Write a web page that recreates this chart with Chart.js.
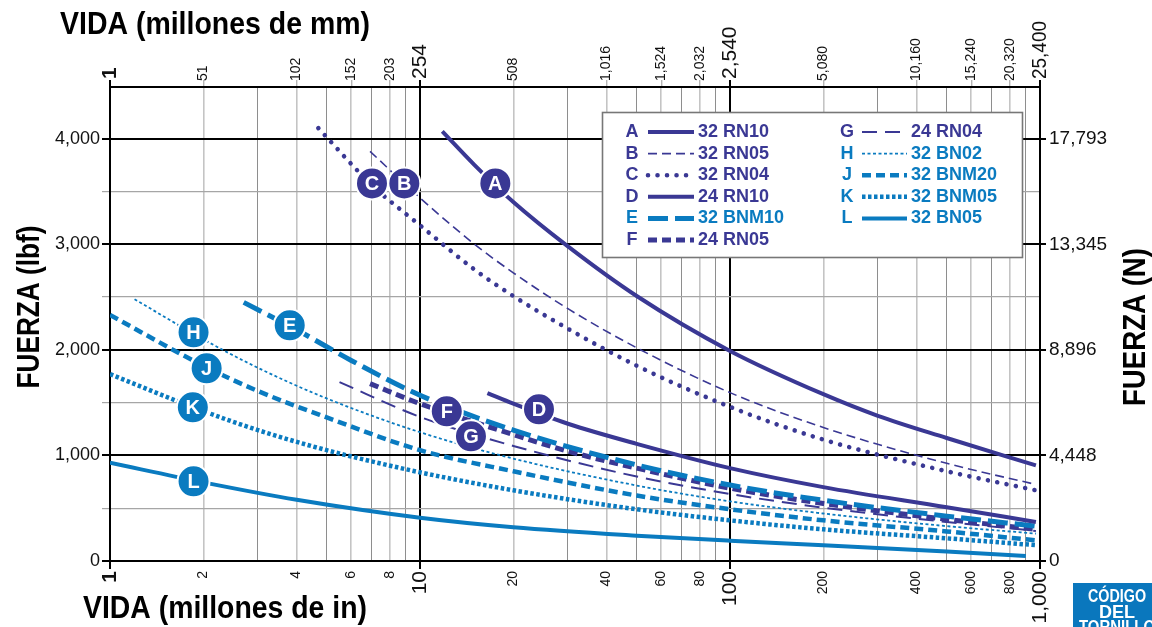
<!DOCTYPE html>
<html>
<head>
<meta charset="utf-8">
<script src="https://cdn.jsdelivr.net/npm/chart.js@4.4.1/dist/chart.umd.min.js"></script>
<style>
  html, body { margin: 0; padding: 0; background: #fff; overflow: hidden; }
  canvas { display: block; }
</style>
</head>
<body>
<canvas id="myChart" width="1152" height="627"></canvas>
<script>
const FONT = "'Liberation Sans', Arial, Helvetica, sans-serif";
const PURPLE = '#3a3894';
const BLUE = '#0a7bc0';

// series: life in millions of inches (x) and force in lbf (y)
const lifeA = [11.8, 15, 20, 30, 50, 100, 200, 300, 500, 970];
const forceA = [4070, 3750, 3400, 2980, 2510, 1990, 1580, 1375, 1165, 905];
const lifeB = [6.9, 10, 15, 20, 30, 50, 100, 200, 500, 970];
const forceB = [3880, 3440, 3000, 2730, 2390, 2020, 1595, 1265, 925, 725];
const lifeC = [4.7, 7, 10, 15, 20, 30, 50, 100, 200, 500, 970];
const forceC = [4100, 3560, 3180, 2760, 2510, 2200, 1850, 1460, 1150, 850, 670];
const lifeD = [16.5, 20, 30, 50, 100, 200, 500, 970];
const forceD = [1590, 1490, 1300, 1110, 880, 700, 510, 370];
const lifeE = [2.7, 4, 6, 10, 20, 50, 100, 200, 500, 970];
const forceE = [2450, 2190, 1900, 1570, 1240, 910, 720, 575, 425, 330];
const lifeF = [6.9, 10, 18, 30, 50, 100, 200, 500, 970];
const forceF = [1680, 1490, 1240, 1040, 880, 690, 545, 395, 300];
const lifeG = [5.5, 10, 20, 50, 100, 200, 500, 970];
const forceG = [1695, 1365, 1090, 800, 635, 505, 370, 285];
const lifeH = [1.2, 2, 3, 5, 10, 20, 50, 100, 200, 500, 970];
const forceH = [2480, 2100, 1830, 1540, 1220, 970, 715, 565, 450, 330, 260];
const lifeJ = [1, 2, 3, 5, 10, 20, 50, 100, 200, 500, 970];
const forceJ = [2330, 1850, 1610, 1360, 1050, 850, 620, 490, 385, 280, 196];
const lifeK = [1, 2, 3, 5, 10, 20, 50, 100, 200, 500, 970];
const forceK = [1770, 1420, 1240, 1050, 840, 670, 490, 385, 300, 215, 150];
const lifeL = [1, 2, 4, 10, 20, 50, 100, 200, 500, 900];
const forceL = [930, 745, 580, 410, 320, 240, 192, 150, 90, 47];

const seriesLetters = ['A', 'B', 'C', 'D', 'E', 'F', 'G', 'H', 'J', 'K', 'L'];
const seriesNames = ['32 RN10', '32 RN05', '32 RN04', '24 RN10', '32 BNM10', '24 RN05',
                     '24 RN04', '32 BN02', '32 BNM20', '32 BNM05', '32 BN05'];
const seriesLife = [lifeA, lifeB, lifeC, lifeD, lifeE, lifeF, lifeG, lifeH, lifeJ, lifeK, lifeL];
const seriesForce = [forceA, forceB, forceC, forceD, forceE, forceF, forceG, forceH, forceJ, forceK, forceL];

// circle callouts on the curves (data coordinates)
const calloutLetters = ['C', 'B', 'A', 'H', 'E', 'J', 'K', 'F', 'D', 'G', 'L'];
const calloutLife = [7.0, 8.9, 17.5, 1.86, 3.8, 2.05, 1.85, 12.2, 24.2, 14.6, 1.86];
const calloutForce = [3577, 3577, 3577, 2166, 2232, 1825, 1456, 1418, 1437, 1181, 755];

// axes
const xGridVals = [1, 2, 3, 4, 5, 6, 7, 8, 9, 10, 20, 30, 40, 50, 60, 70, 80, 90,
                   100, 200, 300, 400, 500, 600, 700, 800, 900, 1000];
const xLabelVals = [1, 2, 4, 6, 8, 10, 20, 40, 60, 80, 100, 200, 400, 600, 800, 1000];
const xLabelsIn = ['1', '2', '4', '6', '8', '10', '20', '40', '60', '80', '100', '200', '400', '600', '800', '1,000'];
const xLabelsMm = ['1', '51', '102', '152', '203', '254', '508', '1,016', '1,524', '2,032', '2,540',
                   '5,080', '10,160', '15,240', '20,320', '25,400'];
const yGridVals = [0, 500, 1000, 1500, 2000, 2500, 3000, 3500, 4000];
const yTickVals = [0, 1000, 2000, 3000, 4000];
const yTickLabels = ['0', '1,000', '2,000', '3,000', '4,000'];
const yTickLabelsN = ['0', '4,448', '8,896', '13,345', '17,793'];

const seriesStyles = [
  { color: PURPLE, width: 4, dash: [] },
  { color: PURPLE, width: 1.6, dash: [9, 5] },
  { color: PURPLE, width: 4.6, dash: [0.01, 9.5], cap: 'round' },
  { color: PURPLE, width: 4, dash: [] },
  { color: BLUE, width: 5, dash: [20, 7] },
  { color: PURPLE, width: 5, dash: [9, 5] },
  { color: PURPLE, width: 2, dash: [15, 8] },
  { color: BLUE, width: 1.8, dash: [3, 2.5] },
  { color: BLUE, width: 4.5, dash: [9, 5] },
  { color: BLUE, width: 4.5, dash: [3.5, 2.5] },
  { color: BLUE, width: 4, dash: [] }
];

const isDecade = v => Math.abs(Math.log10(v) - Math.round(Math.log10(v))) < 1e-9;
const isLabeled = v => xLabelVals.includes(v);

// draw text, squeezing it horizontally when it is wider than maxW
function fitText(ctx, text, x, y, maxW) {
  const w = ctx.measureText(text).width;
  if (!maxW || w <= maxW) { ctx.fillText(text, x, y); return; }
  ctx.save();
  ctx.translate(x, y);
  ctx.scale(maxW / w, 1);
  ctx.fillText(text, 0, 0);
  ctx.restore();
}

function upText(ctx, text, x, y, align, maxW) {
  ctx.save();
  ctx.translate(x, y);
  ctx.rotate(-Math.PI / 2);
  ctx.textAlign = align;
  fitText(ctx, text, 0, 0, maxW);
  ctx.restore();
}

const datasets = seriesLetters.map((letter, i) => ({
  label: letter + ' ' + seriesNames[i],
  data: seriesLife[i].map((v, j) => ({ x: v, y: seriesForce[i][j] })),
  borderColor: seriesStyles[i].color,
  borderWidth: seriesStyles[i].width,
  borderDash: seriesStyles[i].dash,
  borderCapStyle: seriesStyles[i].cap || 'butt',
  borderJoinStyle: 'round',
  pointRadius: 0,
  fill: false,
  cubicInterpolationMode: 'monotone'
}));

const decorPlugin = {
  id: 'decor',
  afterDatasetsDraw(chart) {
    const ctx = chart.ctx;
    const xs = chart.scales.x, ys = chart.scales.y;
    ctx.save();

    // callout circles
    calloutLetters.forEach((letter, i) => {
      const k = seriesLetters.indexOf(letter);
      const px = xs.getPixelForValue(calloutLife[i]);
      const py = ys.getPixelForValue(calloutForce[i]);
      ctx.beginPath();
      ctx.arc(px, py, 16, 0, Math.PI * 2);
      ctx.fillStyle = seriesStyles[k].color;
      ctx.fill();
      ctx.lineWidth = 2;
      ctx.strokeStyle = '#fff';
      ctx.stroke();
      ctx.fillStyle = '#fff';
      ctx.font = 'bold 20px ' + FONT;
      ctx.textAlign = 'center';
      ctx.textBaseline = 'middle';
      ctx.fillText(letter, px, py + 1);
    });

    // legend box
    ctx.fillStyle = '#fff';
    ctx.fillRect(602, 112, 420, 145);
    ctx.strokeStyle = '#777';
    ctx.lineWidth = 1.6;
    ctx.strokeRect(602.5, 112.5, 420, 145);
    ctx.font = 'bold 18px ' + FONT;
    ctx.textBaseline = 'middle';
    seriesLetters.forEach((letter, i) => {
      const col = i < 6 ? 0 : 1;
      const row = i < 6 ? i : i - 6;
      const y = 132 + row * 21.6;
      const st = seriesStyles[i];
      const lx = col ? 847 : 632, l0 = col ? 862 : 648, l1 = col ? 907 : 694, tx = col ? 911 : 698;
      ctx.fillStyle = st.color;
      ctx.textAlign = 'center';
      ctx.fillText(letter, lx, y);
      ctx.beginPath();
      ctx.setLineDash(st.dash);
      ctx.lineCap = st.cap || 'butt';
      ctx.lineWidth = st.width;
      ctx.strokeStyle = st.color;
      ctx.moveTo(l0, y);
      ctx.lineTo(l1, y);
      ctx.stroke();
      ctx.setLineDash([]);
      ctx.textAlign = 'left';
      fitText(ctx, seriesNames[i], tx, y, 0);
    });
    ctx.restore();
  },
  afterDraw(chart) {
    const ctx = chart.ctx;
    const xs = chart.scales.x;
    ctx.save();
    ctx.fillStyle = '#111';
    ctx.textBaseline = 'middle';

    // rotated tick labels, bottom (in) and top (mm)
    xLabelVals.forEach((v, i) => {
      const px = xs.getPixelForValue(v);
      const major = isDecade(v);
      ctx.font = (v === 1 ? 'bold 21px ' : major ? '21px ' : '14px ') + FONT;
      upText(ctx, xLabelsIn[i], px, 571, 'right', 0);
      upText(ctx, xLabelsMm[i], px, major ? 79 : 81, 'left', major ? 58 : 0);
    });

    // axis titles
    ctx.fillStyle = '#000';
    ctx.textBaseline = 'alphabetic';
    ctx.font = 'bold 31px ' + FONT;
    ctx.textAlign = 'left';
    fitText(ctx, 'VIDA (millones de mm)', 60, 34, 310);
    fitText(ctx, 'VIDA (millones de in)', 83, 618, 284);
    ctx.font = 'bold 32px ' + FONT;
    upText(ctx, 'FUERZA (lbf)', 39, 307, 'center', 163);
    upText(ctx, 'FUERZA (N)', 1145, 327, 'center', 158);

    // screw code tab
    ctx.fillStyle = '#0a77bd';
    ctx.fillRect(1073, 583, 90, 50);
    ctx.fillStyle = '#fff';
    ctx.font = 'bold 18px ' + FONT;
    ctx.textAlign = 'center';
    fitText(ctx, 'CÓDIGO', 1117, 602, 58);
    fitText(ctx, 'DEL', 1117, 617.5, 40);
    fitText(ctx, 'TORNILLO', 1117, 633, 76);
    ctx.restore();
  }
};

const ctx = document.getElementById('myChart').getContext('2d');

const myChart = new Chart(ctx, {
  type: 'line',
  data: { datasets: datasets },
  plugins: [decorPlugin],
  options: {
    responsive: false,
    animation: false,
    devicePixelRatio: 1,
    layout: { padding: 0 },
    plugins: { legend: { display: false }, tooltip: { enabled: false } },
    scales: {
      x: {
        type: 'logarithmic',
        position: 'bottom',
        min: 1,
        max: 1000,
        afterBuildTicks: s => { s.ticks = xGridVals.map(v => ({ value: v })); },
        afterFit: s => { s.height = 66; },
        ticks: { display: false },
        border: { display: true, color: '#000', width: 2 },
        grid: {
          color: c => isDecade(c.tick.value) ? '#000' : (isLabeled(c.tick.value) ? '#c4c4c4' : '#8e8e8e'),
          lineWidth: c => isDecade(c.tick.value) ? 2 : (isLabeled(c.tick.value) ? 1.6 : 1),
          tickColor: c => isDecade(c.tick.value) ? '#000' : 'rgba(0,0,0,0)',
          tickLength: 8
        }
      },
      x2: {
        type: 'logarithmic',
        position: 'top',
        min: 1,
        max: 1000,
        afterBuildTicks: s => { s.ticks = xLabelVals.map(v => ({ value: v })); },
        afterFit: s => { s.height = 87; },
        ticks: { display: false },
        border: { display: true, color: '#000', width: 2 },
        grid: {
          drawOnChartArea: false,
          tickColor: c => isDecade(c.tick.value) ? '#000' : '#b5b5b5',
          lineWidth: c => isDecade(c.tick.value) ? 2 : 1.4,
          tickLength: 7
        }
      },
      y: {
        type: 'linear',
        position: 'left',
        min: 0,
        max: 4490,
        afterBuildTicks: s => { s.ticks = yGridVals.map(v => ({ value: v })); },
        afterFit: s => { s.width = 110; },
        ticks: {
          padding: 2,
          color: '#111',
          font: { size: 18, family: FONT },
          callback: v => { const i = yTickVals.indexOf(v); return i >= 0 ? yTickLabels[i] : ''; }
        },
        border: { display: true, color: '#000', width: 2 },
        grid: {
          color: c => c.tick.value % 1000 === 0 ? '#000' : '#a6a6a6',
          lineWidth: c => c.tick.value % 1000 === 0 ? 2 : 1.2,
          tickLength: 8
        }
      },
      y2: {
        type: 'linear',
        position: 'right',
        min: 0,
        max: 4490,
        afterBuildTicks: s => { s.ticks = yTickVals.map(v => ({ value: v })); },
        afterFit: s => { s.width = 112; },
        ticks: {
          padding: 3,
          color: '#111',
          font: { size: 19, family: FONT },
          callback: v => { const i = yTickVals.indexOf(v); return i >= 0 ? yTickLabelsN[i] : ''; }
        },
        border: { display: true, color: '#000', width: 2 },
        grid: {
          drawOnChartArea: false,
          tickColor: '#000',
          lineWidth: 2,
          tickLength: 6
        }
      }
    }
  }
});
</script>
</body>
</html>
